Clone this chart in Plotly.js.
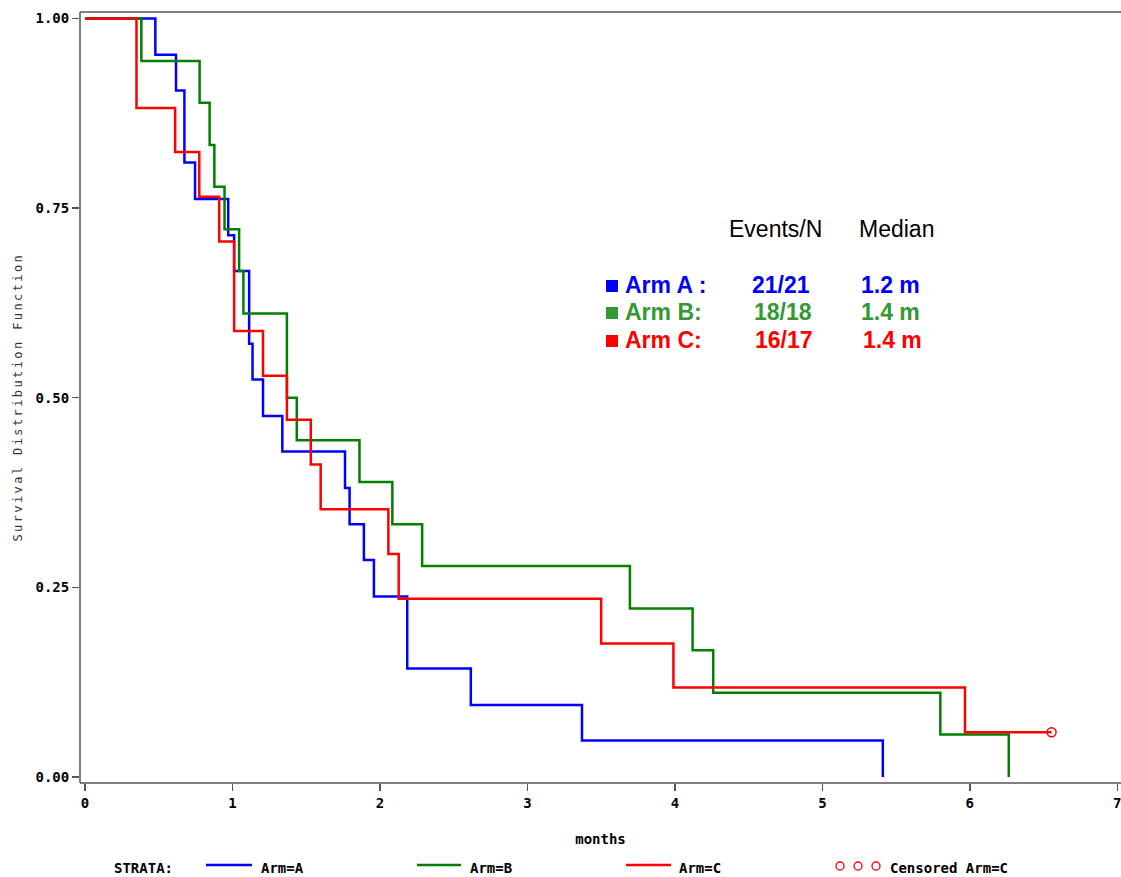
<!DOCTYPE html>
<html>
<head>
<meta charset="utf-8">
<script src="https://cdn.plot.ly/plotly-3.0.1.min.js"></script>
<style>
html,body{margin:0;padding:0;background:#fff;overflow:hidden;}
#chart{width:1121px;height:877px;}
</style>
</head>
<body>
<div id="chart"></div>
<script>
// ---- Data (Kaplan-Meier step values) ----
const timesA = [0, 0.477, 0.617, 0.674, 0.746, 0.971, 1.011, 1.113, 1.136, 1.207, 1.338, 1.763, 1.794, 1.891, 1.959, 2.185, 2.616, 3.37, 5.41];
const survA  = [1, 0.952, 0.905, 0.810, 0.762, 0.714, 0.667, 0.571, 0.524, 0.476, 0.429, 0.381, 0.333, 0.286, 0.238, 0.143, 0.095, 0.048, 0];

const timesB = [0, 0.382, 0.777, 0.845, 0.877, 0.946, 1.045, 1.074, 1.369, 1.436, 1.861, 2.084, 2.286, 3.695, 4.120, 4.26, 5.80, 6.264];
const survB  = [1, 0.944, 0.889, 0.833, 0.778, 0.722, 0.667, 0.611, 0.5, 0.444, 0.389, 0.333, 0.278, 0.222, 0.167, 0.111, 0.056, 0];

const timesC = [0, 0.349, 0.611, 0.775, 0.910, 1.011, 1.207, 1.369, 1.531, 1.598, 2.057, 2.127, 3.50, 3.99, 5.967, 6.554];
const survC  = [1, 0.882, 0.824, 0.765, 0.706, 0.588, 0.529, 0.471, 0.412, 0.353, 0.294, 0.235, 0.176, 0.118, 0.059, 0.059];

const censorTimesC = [6.554];
const censorSurvC  = [0.059];

const xTickVals = [0, 1, 2, 3, 4, 5, 6, 7];
const yTickVals = [0, 0.25, 0.5, 0.75, 1];

const armNames   = ['Arm A :', 'Arm B:', 'Arm C:'];
const eventsN    = ['21/21', '18/18', '16/17'];
const medians    = ['1.2 m', '1.4 m', '1.4 m'];
const strataLabels = ['Arm=A', 'Arm=B', 'Arm=C'];
const yTitle = 'Survival Distribution Function';

// ---- Styles ----
const lineColors = ['#0000FF', '#008000', '#FF0000'];
const textColors = ['#0000FF', '#339933', '#FF0000'];
const monoBold = {family: 'DejaVu Sans Mono', size: 14, color: '#000', weight: 'bold'};
const axisColor = '#555';

// plot area in pixels
const L = 80, R = 1121, T = 12, B = 783;
const px2x = p => (p - L) / (R - L);
const py2y = p => (B - p) / (B - T);

const traces = [
  {x: timesA, y: survA, mode: 'lines', line: {shape: 'hv', color: lineColors[0], width: 2.5}, name: strataLabels[0]},
  {x: timesB, y: survB, mode: 'lines', line: {shape: 'hv', color: lineColors[1], width: 2.5}, name: strataLabels[1]},
  {x: timesC, y: survC, mode: 'lines', line: {shape: 'hv', color: lineColors[2], width: 2.5}, name: strataLabels[2]},
  {x: censorTimesC, y: censorSurvC, mode: 'markers', marker: {symbol: 'circle-open', size: 9, color: lineColors[2], line: {width: 1.5}}, name: 'Censored Arm=C'}
];

const annotations = [];
const shapes = [];
const tblFont = (c, bold) => ({family: 'Liberation Sans, Arial', size: 23, color: c, weight: bold ? 'bold' : 'normal'});

// frame lines: left, bottom, top
shapes.push({type:'line', xref:'paper', yref:'paper', x0: 0, x1: 1, y0: 1, y1: 1, line:{color: axisColor, width:1.5}});
shapes.push({type:'line', xref:'paper', yref:'paper', x0: 0, x1: 1, y0: 0, y1: 0, line:{color: axisColor, width:1.5}});
shapes.push({type:'line', xref:'paper', yref:'paper', x0: 0, x1: 0, y0: 0, y1: 1, line:{color: axisColor, width:1.5}});

// y axis title (as rotated annotation, to place it like the reference)
annotations.push({xref:'paper', yref:'paper', x: px2x(17), y: 0.5, xanchor:'center', yanchor:'middle', textangle: -90, text: yTitle, showarrow:false, font: {family: 'DejaVu Sans Mono', size: 12, color: '#333'}});

annotations.push({xref:'paper', yref:'paper', x: px2x(727), y: py2y(229), xanchor:'left', yanchor:'middle', text:'Events/N', showarrow:false, font: tblFont('#000', false)});
annotations.push({xref:'paper', yref:'paper', x: px2x(857), y: py2y(229), xanchor:'left', yanchor:'middle', text:'Median', showarrow:false, font: tblFont('#000', false)});

const rowY = [285, 312, 340];
const evX = [750, 752, 753];
const medX = [859, 859, 861];
for (let i = 0; i < 3; i++) {
  shapes.push({type:'rect', xref:'paper', yref:'paper', x0: px2x(606), x1: px2x(618), y0: py2y(rowY[i]+7), y1: py2y(rowY[i]-5), fillcolor: textColors[i], line:{width:0}});
  annotations.push({xref:'paper', yref:'paper', x: px2x(623), y: py2y(rowY[i]), xanchor:'left', yanchor:'middle', text: armNames[i], showarrow:false, font: tblFont(textColors[i], true)});
  annotations.push({xref:'paper', yref:'paper', x: px2x(evX[i]), y: py2y(rowY[i]), xanchor:'left', yanchor:'middle', text: eventsN[i], showarrow:false, font: tblFont(textColors[i], true)});
  annotations.push({xref:'paper', yref:'paper', x: px2x(medX[i]), y: py2y(rowY[i]), xanchor:'left', yanchor:'middle', text: medians[i], showarrow:false, font: tblFont(textColors[i], true)});
}

// bottom legend (SAS style)
const legY = 868;
const legFont = {family: 'DejaVu Sans Mono', size: 14, color: '#000', weight: 'bold'};
annotations.push({xref:'paper', yref:'paper', x: px2x(112), y: py2y(legY), xanchor:'left', yanchor:'middle', text:'STRATA:', showarrow:false, font: legFont});
const legLineX = [[206, 252], [417, 461], [626, 671]];
const legTextX = [259, 468, 677];
for (let i = 0; i < 3; i++) {
  shapes.push({type:'line', xref:'paper', yref:'paper', x0: px2x(legLineX[i][0]), x1: px2x(legLineX[i][1]), y0: py2y(865), y1: py2y(865), line:{color: lineColors[i], width: 2.5}});
  annotations.push({xref:'paper', yref:'paper', x: px2x(legTextX[i]), y: py2y(legY), xanchor:'left', yanchor:'middle', text: strataLabels[i], showarrow:false, font: legFont});
}
[840, 858, 876].forEach(cx => {
  shapes.push({type:'circle', xref:'paper', yref:'paper', x0: px2x(cx-4), x1: px2x(cx+4), y0: py2y(866+4), y1: py2y(866-4), line:{color: lineColors[2], width: 1.3}});
});
annotations.push({xref:'paper', yref:'paper', x: px2x(888), y: py2y(legY), xanchor:'left', yanchor:'middle', text:'Censored Arm=C', showarrow:false, font: legFont});

const layout = {
  width: 1121, height: 877,
  margin: {l: L, r: 1121 - R, t: T, b: 877 - B, pad: 0},
  paper_bgcolor: '#fff', plot_bgcolor: '#fff',
  showlegend: false,
  xaxis: {
    range: [-0.034, 7.025], tickvals: xTickVals, ticktext: xTickVals.map(String),
    showline: false, mirror: false,
    ticks: 'outside', ticklen: 7, tickwidth: 1.5, tickcolor: axisColor,
    showgrid: false, zeroline: false, tickfont: monoBold, ticklabeloverflow: 'allow',
    title: {text: 'months', font: monoBold, standoff: 24}
  },
  yaxis: {
    range: [-0.008, 1.0085], tickvals: yTickVals, ticktext: yTickVals.map(v => v.toFixed(2)),
    showline: false, mirror: false,
    ticks: 'outside', ticklen: 7, tickwidth: 1.5, tickcolor: axisColor,
    showgrid: false, zeroline: false, tickfont: monoBold
  },
  annotations: annotations,
  shapes: shapes
};

Plotly.newPlot('chart', traces, layout, {displayModeBar: false, staticPlot: true}).then(() => {
  document.querySelectorAll('.annotation-text').forEach(el => {
    if (el.textContent === yTitle) el.style.letterSpacing = '2.4px';
  });
});
</script>
</body>
</html>
